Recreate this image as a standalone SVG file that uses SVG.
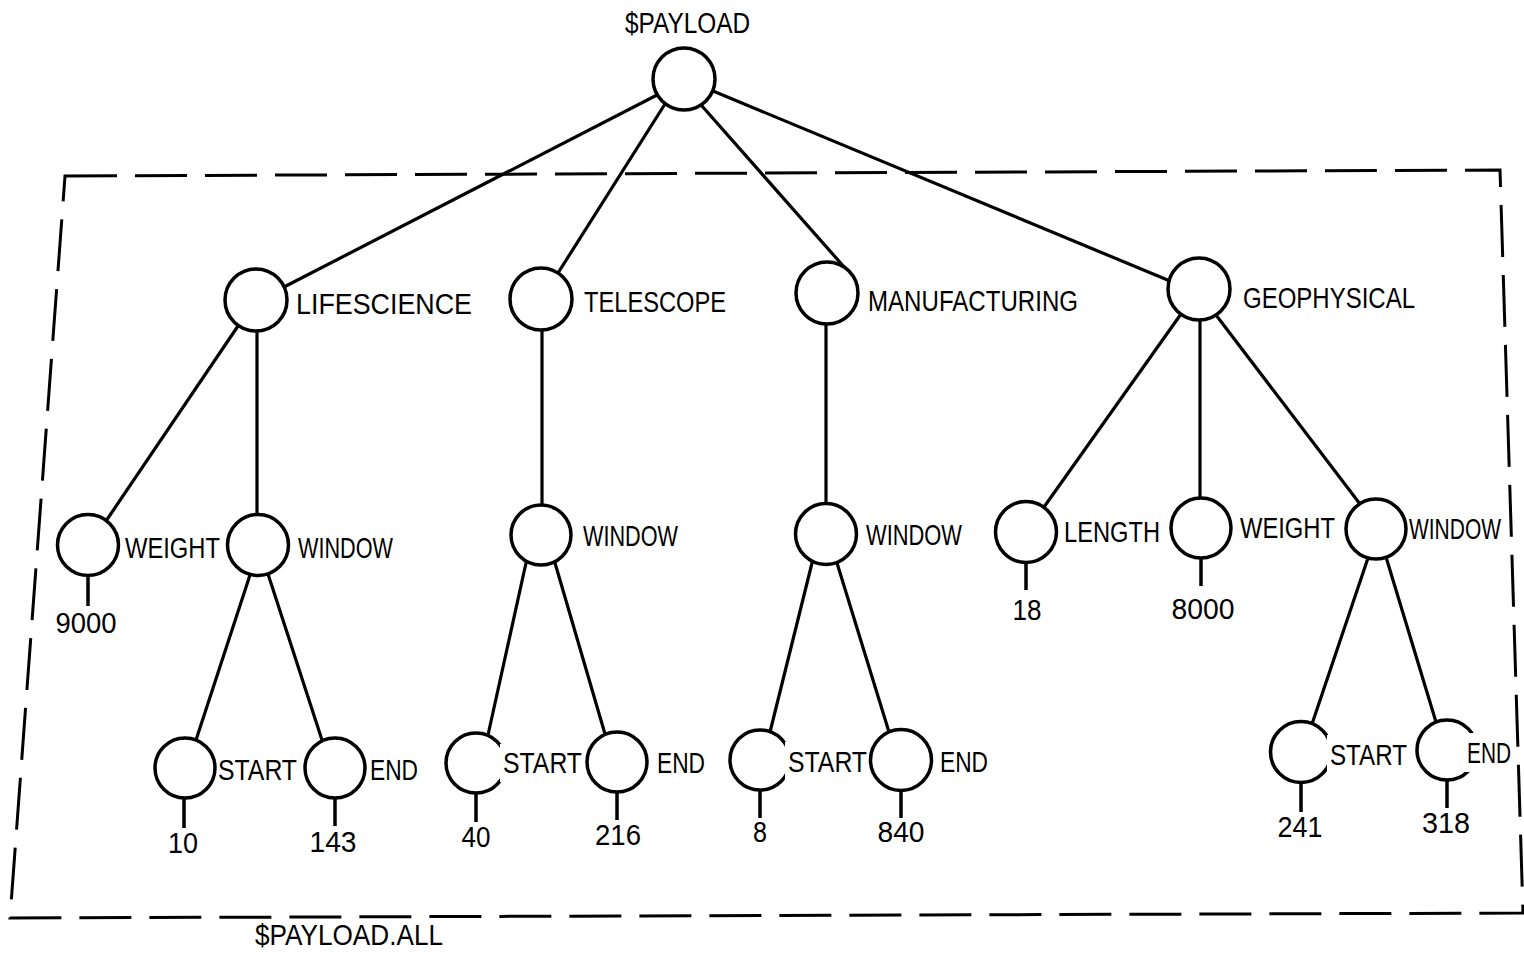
<svg xmlns="http://www.w3.org/2000/svg" width="1524" height="953" viewBox="0 0 1524 953">
  <style>
    .bg { fill: #ffffff; }
    .node { fill: #ffffff; stroke: #000000; stroke-width: 3.5; }
    .edge { stroke: #000000; stroke-width: 3.2; stroke-linecap: round; fill: none; }
    .stub { stroke: #000000; stroke-width: 3.5; fill: none; }
    .frame { fill: none; stroke: #000000; stroke-width: 3; stroke-dasharray: 52 18; }
    .knock { fill: #ffffff; }
    text { font-family: "Liberation Sans", Arial, sans-serif; font-size: 29px; fill: #000000; }
    .val { text-anchor: middle; }
  </style>

  <rect class="bg" x="0" y="0" width="1524" height="953"/>

  <!-- dashed outline enclosing the $PAYLOAD.ALL subtree -->
  <g id="payload-all-frame">
    <path class="frame" d="M65,176 L1500,170 L1523,913 L10,918 Z"/>
    <text x="255" y="945" textLength="188" lengthAdjust="spacingAndGlyphs">$PAYLOAD.ALL</text>
  </g>

  <!-- tree edges -->
  <g id="connectors">
    <line class="edge" x1="657" y1="95" x2="284" y2="287"/>
    <line class="edge" x1="665" y1="104" x2="558" y2="273"/>
    <line class="edge" x1="702" y1="106" x2="845" y2="268"/>
    <line class="edge" x1="713" y1="91" x2="1170" y2="281"/>
    <line class="edge" x1="238" y1="326" x2="106" y2="521"/>
    <line class="edge" x1="257" y1="331" x2="257" y2="514"/>
    <line class="edge" x1="542" y1="330" x2="542" y2="505"/>
    <line class="edge" x1="826" y1="324" x2="826" y2="503"/>
    <line class="edge" x1="1181" y1="314" x2="1044" y2="507"/>
    <line class="edge" x1="1200" y1="320" x2="1200" y2="498"/>
    <line class="edge" x1="1216" y1="315" x2="1360" y2="504"/>
    <line class="edge" x1="250" y1="575" x2="196" y2="740"/>
    <line class="edge" x1="268" y1="574" x2="322" y2="740"/>
    <line class="edge" x1="526" y1="563" x2="488" y2="735"/>
    <line class="edge" x1="555" y1="563" x2="605" y2="734"/>
    <line class="edge" x1="812" y1="563" x2="770" y2="732"/>
    <line class="edge" x1="837" y1="563" x2="889" y2="732"/>
    <line class="edge" x1="1368" y1="558" x2="1312" y2="724"/>
    <line class="edge" x1="1386" y1="557" x2="1436" y2="722"/>
  </g>

  <!-- root -->
  <g id="payload">
    <circle class="node" cx="684" cy="79" r="31"/>
    <text x="625" y="33" textLength="125" lengthAdjust="spacingAndGlyphs">$PAYLOAD</text>
  </g>

  <!-- first level -->
  <g id="lifescience">
    <circle class="node" cx="256" cy="300" r="31"/>
    <text x="296" y="314" textLength="176" lengthAdjust="spacingAndGlyphs">LIFESCIENCE</text>
  </g>
  <g id="telescope">
    <circle class="node" cx="541" cy="299" r="31"/>
    <text x="584" y="312" textLength="142" lengthAdjust="spacingAndGlyphs">TELESCOPE</text>
  </g>
  <g id="manufacturing">
    <circle class="node" cx="827" cy="293" r="31"/>
    <text x="868" y="311" textLength="210" lengthAdjust="spacingAndGlyphs">MANUFACTURING</text>
  </g>
  <g id="geophysical">
    <circle class="node" cx="1199" cy="289" r="31"/>
    <text x="1243" y="308" textLength="172" lengthAdjust="spacingAndGlyphs">GEOPHYSICAL</text>
  </g>

  <!-- LIFESCIENCE subtree -->
  <g id="life-weight">
    <line class="stub" x1="88" y1="575" x2="88" y2="606"/>
    <circle class="node" cx="88" cy="545" r="30.5"/>
    <text x="125" y="558" textLength="95" lengthAdjust="spacingAndGlyphs">WEIGHT</text>
    <text class="val" x="86" y="633" textLength="61" lengthAdjust="spacingAndGlyphs">9000</text>
  </g>
  <g id="life-window">
    <circle class="node" cx="258" cy="545" r="30.5"/>
    <text x="298" y="558" textLength="95" lengthAdjust="spacingAndGlyphs">WINDOW</text>
  </g>
  <g id="life-start">
    <line class="stub" x1="184" y1="796" x2="184" y2="828"/>
    <circle class="node" cx="185" cy="768" r="30"/>
    <text x="218" y="780" textLength="79" lengthAdjust="spacingAndGlyphs">START</text>
    <text class="val" x="183" y="853" textLength="30" lengthAdjust="spacingAndGlyphs">10</text>
  </g>
  <g id="life-end">
    <line class="stub" x1="335" y1="796" x2="335" y2="826"/>
    <circle class="node" cx="335" cy="768" r="30"/>
    <text x="370" y="780" textLength="48" lengthAdjust="spacingAndGlyphs">END</text>
    <text class="val" x="333" y="852" textLength="47" lengthAdjust="spacingAndGlyphs">143</text>
  </g>

  <!-- TELESCOPE subtree -->
  <g id="tel-window">
    <circle class="node" cx="541" cy="535" r="30"/>
    <text x="583" y="546" textLength="95" lengthAdjust="spacingAndGlyphs">WINDOW</text>
  </g>
  <g id="tel-start">
    <line class="stub" x1="476" y1="791" x2="476" y2="822"/>
    <circle class="node" cx="476" cy="763" r="30"/>
    <rect class="knock" x="500" y="744" width="84" height="38"/>
    <text x="503" y="773" textLength="79" lengthAdjust="spacingAndGlyphs">START</text>
    <text class="val" x="476" y="847" textLength="29" lengthAdjust="spacingAndGlyphs">40</text>
  </g>
  <g id="tel-end">
    <line class="stub" x1="617" y1="790" x2="617" y2="820"/>
    <circle class="node" cx="617" cy="762" r="30"/>
    <text x="657" y="773" textLength="48" lengthAdjust="spacingAndGlyphs">END</text>
    <text class="val" x="618" y="845" textLength="46" lengthAdjust="spacingAndGlyphs">216</text>
  </g>

  <!-- MANUFACTURING subtree -->
  <g id="manu-window">
    <circle class="node" cx="826" cy="534" r="30.5"/>
    <text x="866" y="545" textLength="96" lengthAdjust="spacingAndGlyphs">WINDOW</text>
  </g>
  <g id="manu-start">
    <line class="stub" x1="760" y1="788" x2="760" y2="818"/>
    <circle class="node" cx="760" cy="760" r="30"/>
    <rect class="knock" x="785" y="742" width="83" height="38"/>
    <text x="788" y="772" textLength="79" lengthAdjust="spacingAndGlyphs">START</text>
    <text class="val" x="760" y="842" textLength="14" lengthAdjust="spacingAndGlyphs">8</text>
  </g>
  <g id="manu-end">
    <line class="stub" x1="901" y1="788" x2="901" y2="818"/>
    <circle class="node" cx="901" cy="760" r="30.5"/>
    <text x="940" y="772" textLength="48" lengthAdjust="spacingAndGlyphs">END</text>
    <text class="val" x="901" y="842" textLength="47" lengthAdjust="spacingAndGlyphs">840</text>
  </g>

  <!-- GEOPHYSICAL subtree -->
  <g id="geo-length">
    <line class="stub" x1="1026" y1="560" x2="1026" y2="590"/>
    <circle class="node" cx="1026" cy="532" r="30.5"/>
    <text x="1064" y="542" textLength="96" lengthAdjust="spacingAndGlyphs">LENGTH</text>
    <text class="val" x="1027" y="620" textLength="29" lengthAdjust="spacingAndGlyphs">18</text>
  </g>
  <g id="geo-weight">
    <line class="stub" x1="1201" y1="556" x2="1201" y2="586"/>
    <circle class="node" cx="1201" cy="528" r="30"/>
    <text x="1240" y="538" textLength="95" lengthAdjust="spacingAndGlyphs">WEIGHT</text>
    <text class="val" x="1203" y="619" textLength="63" lengthAdjust="spacingAndGlyphs">8000</text>
  </g>
  <g id="geo-window">
    <circle class="node" cx="1376" cy="529" r="30"/>
    <text x="1409" y="539" textLength="92" lengthAdjust="spacingAndGlyphs">WINDOW</text>
  </g>
  <g id="geo-start">
    <line class="stub" x1="1301" y1="780" x2="1301" y2="812"/>
    <circle class="node" cx="1301" cy="752" r="30.5"/>
    <rect class="knock" x="1327" y="735" width="81" height="38"/>
    <text x="1330" y="765" textLength="77" lengthAdjust="spacingAndGlyphs">START</text>
    <text class="val" x="1300" y="837" textLength="45" lengthAdjust="spacingAndGlyphs">241</text>
  </g>
  <g id="geo-end">
    <line class="stub" x1="1447" y1="778" x2="1447" y2="808"/>
    <circle class="node" cx="1447" cy="750" r="30"/>
    <rect class="knock" x="1464" y="733" width="50" height="39"/>
    <text x="1467" y="763" textLength="44" lengthAdjust="spacingAndGlyphs">END</text>
    <text class="val" x="1446" y="833" textLength="48" lengthAdjust="spacingAndGlyphs">318</text>
  </g>
</svg>
